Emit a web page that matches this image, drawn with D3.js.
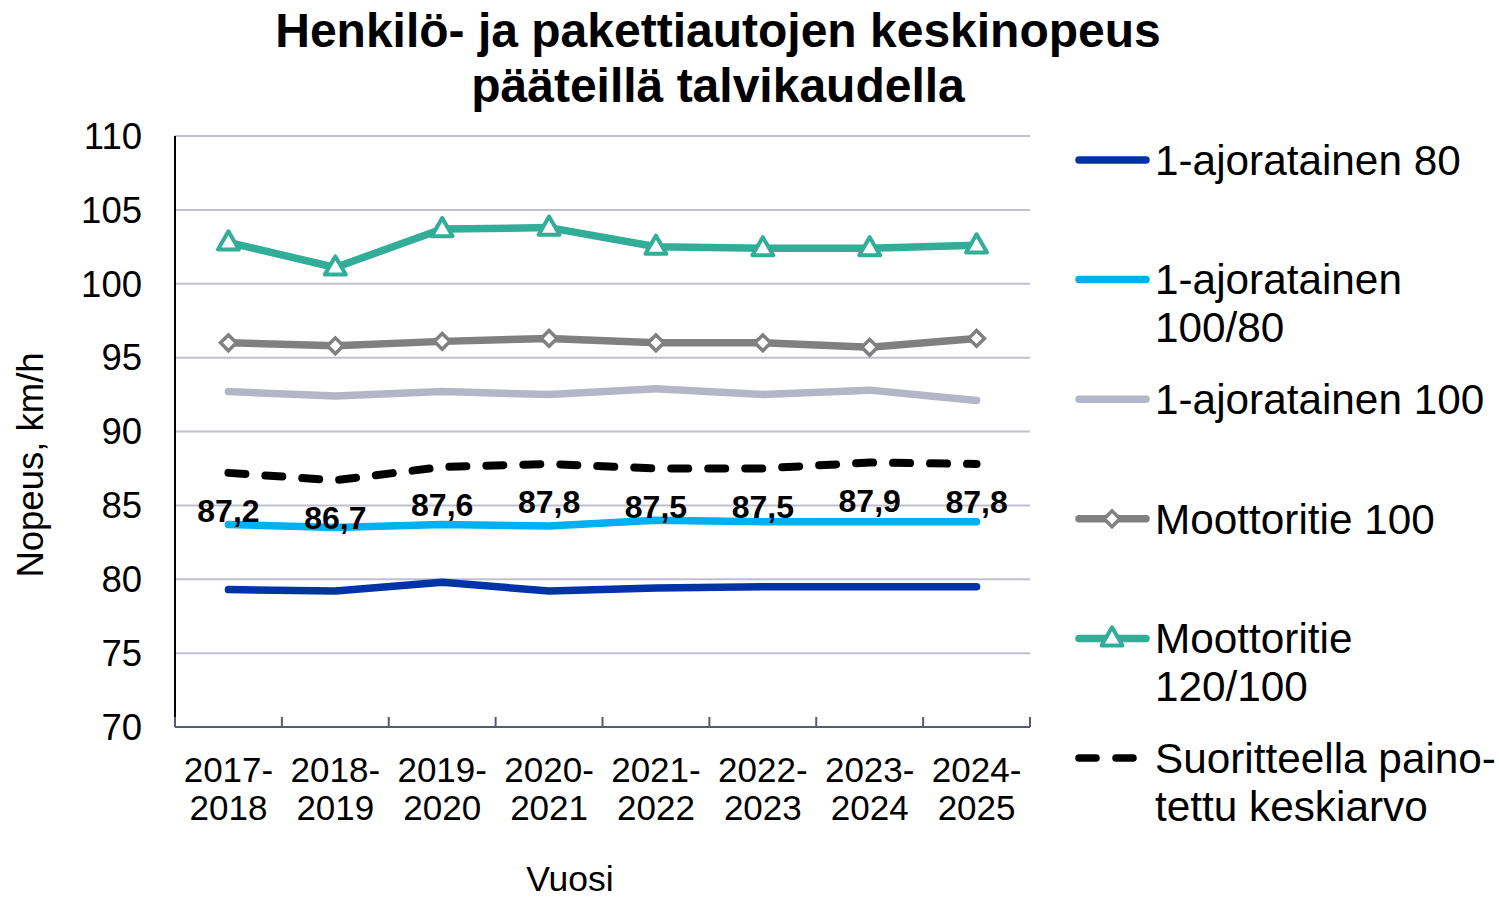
<!DOCTYPE html>
<html>
<head>
<meta charset="utf-8">
<script src="https://cdn.jsdelivr.net/npm/d3@7"></script>
<style>
  body { margin: 0; background: #fff; }
  svg { display: block; }
  text { font-family: "Liberation Sans", Arial, sans-serif; fill: #000; }
</style>
</head>
<body>
<script>
// kaudet
const seasons = ["2017-2018", "2018-2019", "2019-2020", "2020-2021", "2021-2022", "2022-2023", "2023-2024", "2024-2025"];

const ajorata80 = [79.3, 79.2, 79.8, 79.2, 79.4, 79.5, 79.5, 79.5];
const ajorata100_80 = [83.7, 83.5, 83.7, 83.6, 84.0, 83.9, 83.9, 83.9];
const ajorata100 = [92.7, 92.4, 92.7, 92.5, 92.9, 92.5, 92.8, 92.1];
const moottori100 = [96.0, 95.8, 96.1, 96.3, 96.0, 96.0, 95.7, 96.3];
const moottori120_100 = [102.8, 101.1, 103.7, 103.8, 102.5, 102.4, 102.4, 102.6];
const keskiarvo = [87.2, 86.7, 87.6, 87.8, 87.5, 87.5, 87.9, 87.8];

const yTicks = [70, 75, 80, 85, 90, 95, 100, 105, 110];

const series = [
  { name: ["1-ajoratainen 80"], values: ajorata80, color: "#0033a8", marker: null },
  { name: ["1-ajoratainen", "100/80"], values: ajorata100_80, color: "#00b0f0", marker: null },
  { name: ["1-ajoratainen 100"], values: ajorata100, color: "#b5b5c8", marker: null },
  { name: ["Moottoritie 100"], values: moottori100, color: "#808080", marker: "diamond" },
  { name: ["Moottoritie", "120/100"], values: moottori120_100, color: "#31ad98", marker: "triangle" },
  { name: ["Suoritteella paino-", "tettu keskiarvo"], values: keskiarvo, color: "#000", marker: null, dashed: true }
];

const width = 1499, height = 901;
const plotL = 175, plotR = 1030, plotT = 136, plotB = 727;

const svg = d3.select("body").append("svg")
  .attr("width", width)
  .attr("height", height);

const x = d3.scaleBand().domain(seasons).range([plotL, plotR]).padding(0);
const cx = d => x(d) + x.bandwidth() / 2;
const y = d3.scaleLinear().domain([70, 110]).range([plotB, plotT]);

// otsikko
svg.append("text")
  .attr("x", 718).attr("y", 0)
  .attr("text-anchor", "middle")
  .style("font-size", "48px").style("font-weight", "bold")
  .selectAll("tspan")
  .data(["Henkilö- ja pakettiautojen keskinopeus", "pääteillä talvikaudella"])
  .enter().append("tspan")
  .attr("x", 718)
  .attr("y", (d, i) => 47 + i * 55)
  .text(d => d);

// ruudukko
svg.append("g").selectAll("line")
  .data(yTicks.filter(t => t > 70))
  .enter().append("line")
  .attr("x1", plotL).attr("x2", plotR)
  .attr("y1", d => y(d)).attr("y2", d => y(d))
  .attr("stroke", "#c0bfd0").attr("stroke-width", 2);

// y-akselin luvut
svg.append("g").selectAll("text")
  .data(yTicks)
  .enter().append("text")
  .attr("x", 142).attr("y", d => y(d))
  .attr("dy", "0.35em")
  .attr("text-anchor", "end")
  .style("font-size", "36.5px")
  .text(d => d);

svg.append("line")
  .attr("x1", plotL).attr("x2", plotL)
  .attr("y1", plotT).attr("y2", plotB)
  .attr("stroke", "#000").attr("stroke-width", 2);

// x-akseli
svg.append("line")
  .attr("x1", plotL).attr("x2", plotR)
  .attr("y1", plotB).attr("y2", plotB)
  .attr("stroke", "#595a6e").attr("stroke-width", 2);

svg.append("g").selectAll("line")
  .data(d3.range(seasons.length + 1))
  .enter().append("line")
  .attr("x1", i => plotL + i * x.step()).attr("x2", i => plotL + i * x.step())
  .attr("y1", plotB).attr("y2", plotB - 10)
  .attr("stroke", "#595a6e").attr("stroke-width", 2);

const xl = svg.append("g").selectAll("text")
  .data(seasons)
  .enter().append("text")
  .attr("text-anchor", "middle")
  .style("font-size", "35px");
xl.append("tspan").attr("x", cx).attr("y", 782).text(d => d.split("-")[0] + "-");
xl.append("tspan").attr("x", cx).attr("y", 820).text(d => d.split("-")[1]);

svg.append("text")
  .attr("x", 570).attr("y", 891)
  .attr("text-anchor", "middle")
  .style("font-size", "35.5px")
  .text("Vuosi");

svg.append("text")
  .attr("transform", "translate(43,465) rotate(-90)")
  .attr("text-anchor", "middle")
  .style("font-size", "36.5px")
  .text("Nopeus, km/h");

// viivat
const line = d3.line()
  .x((d, i) => cx(seasons[i]))
  .y(d => y(d));

const triangle = d3.symbol().type(d3.symbolTriangle).size(190);
const diamond = d3.symbol().type(d3.symbolSquare).size(125);

function drawMarker(g, type, color) {
  if (type === "triangle") {
    g.append("path").attr("d", triangle)
      .attr("transform", "translate(0,1)")
      .attr("fill", "#fff").attr("stroke", color).attr("stroke-width", 4)
      .attr("stroke-linejoin", "round");
  } else if (type === "diamond") {
    g.append("path").attr("d", diamond)
      .attr("transform", "rotate(45)")
      .attr("fill", "#fff").attr("stroke", color).attr("stroke-width", 3.5);
  }
}

series.forEach(s => {
  svg.append("path")
    .datum(s.values)
    .attr("d", line)
    .attr("fill", "none")
    .attr("stroke", s.color)
    .attr("stroke-width", s.dashed ? 8 : 7.5)
    .attr("stroke-linecap", "round")
    .attr("stroke-linejoin", "round")
    .attr("stroke-dasharray", s.dashed ? "17,20" : null);

  if (s.marker) {
    s.values.forEach((v, i) => {
      const g = svg.append("g").attr("transform", `translate(${cx(seasons[i])},${y(v)})`);
      drawMarker(g, s.marker, s.color);
    });
  }
});

// arvot keskiarvolle
svg.append("g").selectAll("text")
  .data(keskiarvo)
  .enter().append("text")
  .attr("x", (d, i) => cx(seasons[i]))
  .attr("y", d => y(d) + 38)
  .attr("dy", "0.35em")
  .attr("text-anchor", "middle")
  .style("font-size", "32px").style("font-weight", "bold")
  .text(d => d.toFixed(1).replace(".", ","));

// selite
const legend = svg.append("g");
series.forEach((s, i) => {
  const ly = 160 + i * 119.6;
  const g = legend.append("g").attr("transform", `translate(0,${ly})`);
  g.append("line")
    .attr("x1", 1079).attr("x2", s.dashed ? 1134 : 1146)
    .attr("y1", 0).attr("y2", 0)
    .attr("stroke", s.color)
    .attr("stroke-width", 7.5)
    .attr("stroke-linecap", "round")
    .attr("stroke-dasharray", s.dashed ? "17,20" : null);
  if (s.marker) {
    const m = g.append("g").attr("transform", "translate(1112,0)");
    drawMarker(m, s.marker, s.color);
  }
  g.append("text")
    .attr("x", 1155)
    .attr("y", 0)
    .style("font-size", "42.3px")
    .selectAll("tspan")
    .data(s.name)
    .enter().append("tspan")
    .attr("x", 1155)
    .attr("y", (d, j) => j * 48)
    .attr("dy", "0.35em")
    .text(d => d);
});
</script>
</body>
</html>
